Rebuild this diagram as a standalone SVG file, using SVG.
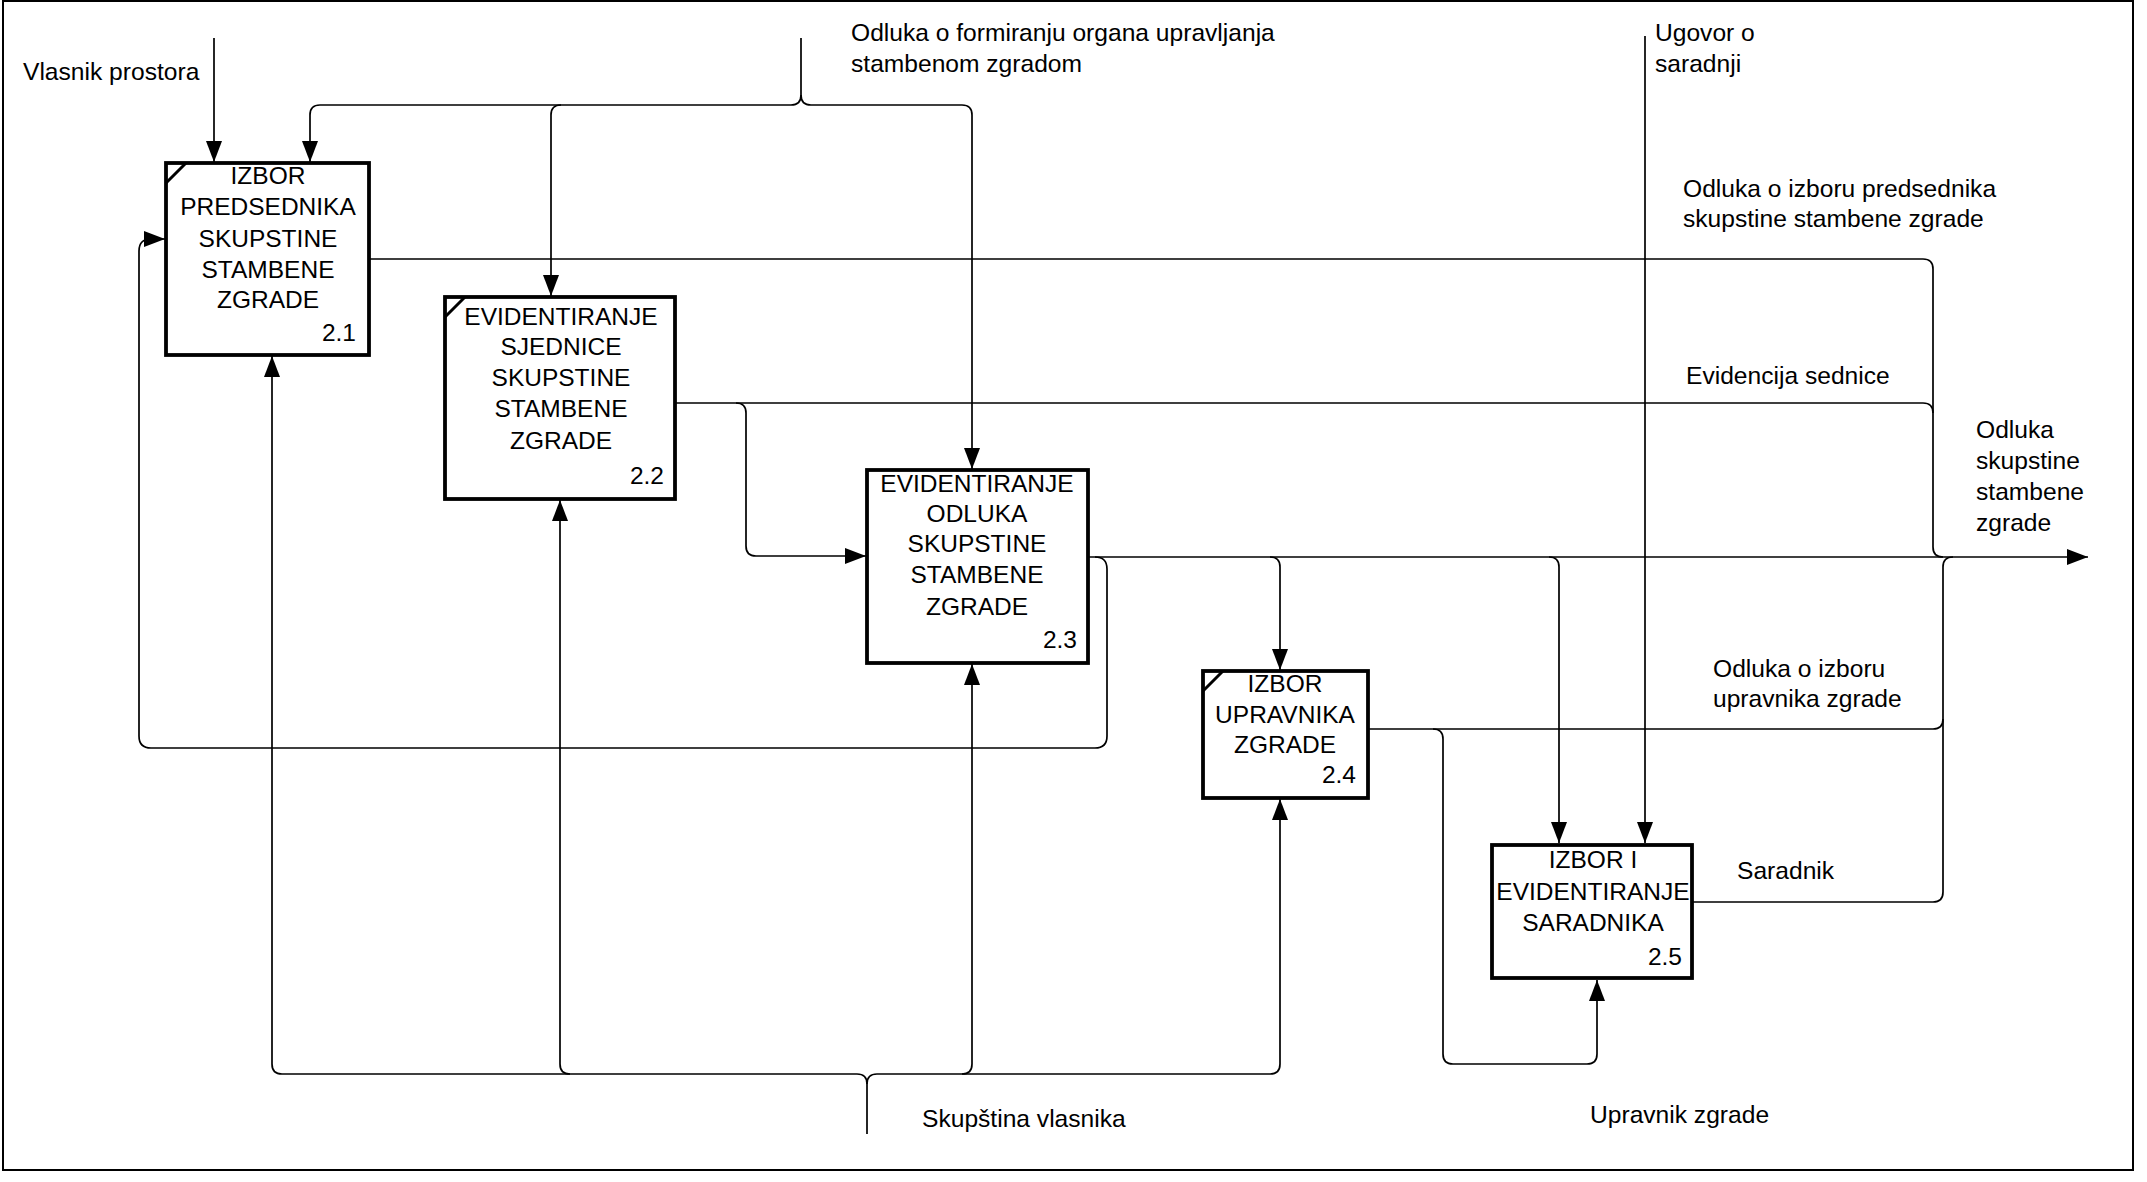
<svg xmlns="http://www.w3.org/2000/svg" width="2147" height="1182" viewBox="0 0 2147 1182">
<style>
.bg{fill:#fff}
.frame{fill:none;stroke:#000;stroke-width:2}
.box{fill:#fff;stroke:#000;stroke-width:3.8}
.diag{stroke:#000;stroke-width:3;fill:none}
.c{fill:none;stroke:#000;stroke-width:1.7}
.t{font-family:"Liberation Sans",Arial,sans-serif;font-size:24.6px;fill:#000}
.bt{font-family:"Liberation Sans",Arial,sans-serif;font-size:24.5px;fill:#000;text-anchor:middle}
.num{font-family:"Liberation Sans",Arial,sans-serif;font-size:24.5px;fill:#000;text-anchor:end}
</style>
<defs>
<marker id="ah" markerUnits="userSpaceOnUse" markerWidth="22" markerHeight="17" refX="21" refY="8" orient="auto">
<path d="M0,0 L21,8 L0,16 z" fill="#000"/>
</marker>
</defs>
<rect class="bg" x="0" y="0" width="2147" height="1182"/>
<rect class="frame" x="3" y="1" width="2130" height="1169"/>

<g id="connectors">
<path class="c" d="M214,38 V162" marker-end="url(#ah)"/>
<path class="c" d="M801,38 V95 Q801,105 791,105 H320 Q310,105 310,115 V162" marker-end="url(#ah)"/>
<path class="c" d="M801,95 Q801,105 811,105 H962 Q972,105 972,115 V469" marker-end="url(#ah)"/>
<path class="c" d="M561,105 Q551,105 551,115 V296" marker-end="url(#ah)"/>
<path class="c" d="M1645,36 V843" marker-end="url(#ah)"/>
<path class="c" d="M369,259 H1923 Q1933,259 1933,269 V547 Q1933,557 1943,557"/>
<path class="c" d="M675,403 H1923 Q1933,403 1933,413"/>
<path class="c" d="M736,403 Q746,403 746,413 V546 Q746,556 756,556 H866" marker-end="url(#ah)"/>
<path class="c" d="M1088,557 H2088" marker-end="url(#ah)"/>
<path class="c" d="M1095,557 Q1107,557 1107,569 V736 Q1107,748 1095,748 H151 Q139,748 139,736 V251 Q139,239 151,239 H165" marker-end="url(#ah)"/>
<path class="c" d="M1270,557 Q1280,557 1280,567 V670" marker-end="url(#ah)"/>
<path class="c" d="M1549,557 Q1559,557 1559,567 V843" marker-end="url(#ah)"/>
<path class="c" d="M1368,729 H1933 Q1943,729 1943,719"/>
<path class="c" d="M1433,729 Q1443,729 1443,739 V1054 Q1443,1064 1453,1064 H1587 Q1597,1064 1597,1054 V980" marker-end="url(#ah)"/>
<path class="c" d="M1693,902 H1933 Q1943,902 1943,892 V567 Q1943,557 1953,557"/>
<path class="c" d="M867,1134 V1084 Q867,1074 857,1074 H282 Q272,1074 272,1064 V356" marker-end="url(#ah)"/>
<path class="c" d="M867,1084 Q867,1074 877,1074 H1270 Q1280,1074 1280,1064 V799" marker-end="url(#ah)"/>
<path class="c" d="M570,1074 Q560,1074 560,1064 V500" marker-end="url(#ah)"/>
<path class="c" d="M962,1074 Q972,1074 972,1064 V664" marker-end="url(#ah)"/>
</g>

<g id="node-2-1">
<rect class="box" x="166" y="163" width="203" height="192"/>
<path class="diag" d="M166,183 L186,163"/>
<text class="bt" x="268" y="184">IZBOR</text>
<text class="bt" x="268" y="215">PREDSEDNIKA</text>
<text class="bt" x="268" y="247">SKUPSTINE</text>
<text class="bt" x="268" y="278">STAMBENE</text>
<text class="bt" x="268" y="308">ZGRADE</text>
<text class="num" x="356" y="341">2.1</text>
</g>

<g id="node-2-2">
<rect class="box" x="445" y="297" width="230" height="202"/>
<path class="diag" d="M445,317 L465,297"/>
<text class="bt" x="561" y="325">EVIDENTIRANJE</text>
<text class="bt" x="561" y="355">SJEDNICE</text>
<text class="bt" x="561" y="386">SKUPSTINE</text>
<text class="bt" x="561" y="417">STAMBENE</text>
<text class="bt" x="561" y="449">ZGRADE</text>
<text class="num" x="664" y="484">2.2</text>
</g>

<g id="node-2-3">
<rect class="box" x="867" y="470" width="221" height="193"/>
<text class="bt" x="977" y="492">EVIDENTIRANJE</text>
<text class="bt" x="977" y="522">ODLUKA</text>
<text class="bt" x="977" y="552">SKUPSTINE</text>
<text class="bt" x="977" y="583">STAMBENE</text>
<text class="bt" x="977" y="615">ZGRADE</text>
<text class="num" x="1077" y="648">2.3</text>
</g>

<g id="node-2-4">
<rect class="box" x="1203" y="671" width="165" height="127"/>
<path class="diag" d="M1203,691 L1223,671"/>
<text class="bt" x="1285" y="692">IZBOR</text>
<text class="bt" x="1285" y="723">UPRAVNIKA</text>
<text class="bt" x="1285" y="753">ZGRADE</text>
<text class="num" x="1356" y="783">2.4</text>
</g>

<g id="node-2-5">
<rect class="box" x="1492" y="845" width="200" height="133"/>
<text class="bt" x="1593" y="868">IZBOR I</text>
<text class="bt" x="1593" y="900">EVIDENTIRANJE</text>
<text class="bt" x="1593" y="931">SARADNIKA</text>
<text class="num" x="1682" y="965">2.5</text>
</g>

<g id="labels">
<text class="t" x="23" y="80">Vlasnik prostora</text>
<text class="t" x="851" y="41">Odluka o formiranju organa upravljanja</text>
<text class="t" x="851" y="72">stambenom zgradom</text>
<text class="t" x="1655" y="41">Ugovor o</text>
<text class="t" x="1655" y="72">saradnji</text>
<text class="t" x="1683" y="197">Odluka o izboru predsednika</text>
<text class="t" x="1683" y="227">skupstine stambene zgrade</text>
<text class="t" x="1686" y="384">Evidencija sednice</text>
<text class="t" x="1976" y="438">Odluka</text>
<text class="t" x="1976" y="469">skupstine</text>
<text class="t" x="1976" y="500">stambene</text>
<text class="t" x="1976" y="531">zgrade</text>
<text class="t" x="1713" y="677">Odluka o izboru</text>
<text class="t" x="1713" y="707">upravnika zgrade</text>
<text class="t" x="1737" y="879">Saradnik</text>
<text class="t" x="1590" y="1123">Upravnik zgrade</text>
<text class="t" x="922" y="1127">Skupština vlasnika</text>
</g>
</svg>
